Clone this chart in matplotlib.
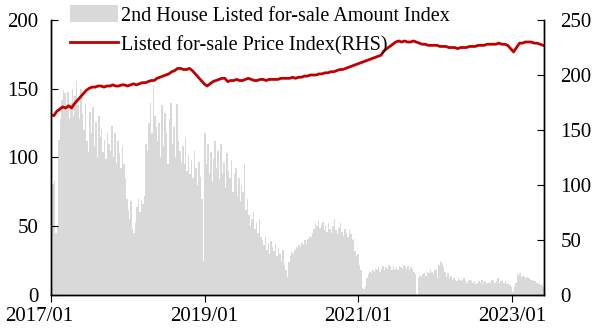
import matplotlib
matplotlib.use("Agg")
import matplotlib.pyplot as plt
import matplotlib.dates as mdates
import matplotlib.transforms as mtransforms
import numpy as np
import pandas as pd

# Weekly 2nd-house listed-for-sale amount index (left axis)
amount_index = [
    86, 81, 83,
    45, 50,
    113, 128, 142, 149, 147, 135, 148, 128, 140,
    150, 130, 145, 156, 138, 128, 150, 132,
    120, 139, 112, 104, 133, 118, 137, 108, 126, 100, 130, 115, 121, 104, 113, 99, 118, 110,
    105, 123, 100, 118, 96, 112, 103, 92, 108, 95, 85,
    70, 62, 55, 68, 48, 45, 52,
    64, 70, 60, 69, 66, 72,
    110, 105, 125, 140, 118, 152, 130, 122,
    112, 125, 100, 138, 108, 132, 118, 95, 128, 140, 110, 122, 100, 139, 112, 105, 96,
    108, 95, 114, 90, 102, 88, 98, 85, 105, 92, 80, 97, 86, 70, 25,
    118, 95, 110, 88, 104, 82, 99, 112,
    92, 105, 84, 110, 88, 96, 78, 103, 90, 85, 98, 75, 88,
    92, 72, 85, 68, 80, 75, 95, 62, 70,
    58, 50, 55, 60, 48, 52, 45, 55, 42,
    40, 36, 42, 33, 38, 30, 39, 35, 32, 37, 28, 34, 30, 25, 33, 22, 18,
    13,
    24, 28, 31, 30, 33, 35, 34, 36,
    35, 38, 36, 40, 37, 41, 43, 42,
    45, 48, 52, 50, 54, 49, 51, 53, 47, 50, 46, 52, 48, 45, 50, 55, 47, 44, 49, 52, 46, 43, 48, 45, 42, 47, 44, 40, 41,
    32, 28, 30, 22, 18,
    5, 4, 6,
    12, 15, 17, 16, 18, 17, 19, 18, 20, 17, 19, 21, 18, 20, 19, 22, 20, 18, 21, 19, 20, 18, 21, 20, 19, 22, 20, 19, 21, 18, 20, 19, 17, 15,
    1,
    12, 14, 13, 15, 16, 14, 17, 16, 18, 17, 15, 19, 18, 12,
    22, 25, 23, 20, 17,
    13, 16, 12, 14, 11, 12, 11, 10, 12, 11, 10, 11, 12, 10, 9, 10, 11, 10,
    9, 10, 8, 9, 10, 9, 11, 9, 10, 8, 9, 10, 9, 11, 10, 9, 10, 12, 9, 10, 11, 9, 10, 8, 9, 7, 6,
    2,
    6, 9,
    15, 14, 16, 13, 14, 13, 12, 13, 12, 11,
    11, 10, 10, 9, 9, 8, 7, 7, 6,
]

# Bi-weekly listed-for-sale price index (right axis)
price_index = [
    164, 163, 167, 169, 171, 170, 172, 170, 174, 177, 180, 183, 186, 188, 189, 189,
    190, 190, 189, 190, 190, 191, 190, 190, 191, 191, 190, 191, 192, 191, 192,
    193, 193, 194, 195, 195, 197, 198, 199, 200, 201, 203, 204, 206, 206, 205, 205,
    206, 204, 201, 198, 195, 192, 190, 192, 194, 195, 196, 197, 197, 194,
    195, 195, 196, 195, 195, 196, 197, 196, 195, 195, 196, 196, 195, 196,
    196, 196, 196, 197, 197, 197, 197, 198, 197, 198, 198, 199, 199, 200,
    200, 200, 201, 201, 202, 202, 203, 203, 204, 205, 205, 206, 207, 208,
    209, 210, 211, 212, 213, 214, 215, 216, 217, 218, 222, 224, 226, 228,
    230, 231, 230, 231, 230, 230, 231, 230, 229, 228, 228, 227, 227, 227,
    227, 226, 226, 226, 225, 225, 225, 224, 225, 225, 225, 226, 226, 226,
    227, 227, 227, 228, 228, 228, 228, 229, 228, 228, 227, 224, 221, 225,
    229, 229, 230, 230, 230, 229, 229, 228, 227,
]

left_ticks = [0, 50, 100, 150, 200]
right_ticks = [0, 50, 100, 150, 200, 250]
x_tick_labels = ["2017/01", "2019/01", "2021/01", "2023/01"]

bar_dates = pd.date_range("2017-01-01", periods=len(amount_index), freq="7D")
line_dates = pd.date_range("2017-01-01", periods=len(price_index), freq="14D")

plt.rcParams["font.family"] = ["Liberation Serif", "DejaVu Serif"]
fs = 15

fig = plt.figure(figsize=(5.99, 3.34), dpi=100)
ax = fig.add_axes([0.085, 0.117, 0.823, 0.823])
ax2 = ax.twinx()

bars = ax.bar(bar_dates, amount_index, width=7.0, color="#d9d9d9",
              edgecolor="none", align="edge",
              label="2nd House Listed for-sale Amount Index")
line, = ax2.plot(line_dates, price_index, color="#c00000", lw=2.0,
                 label="Listed for-sale Price Index(RHS)")

ax.set_ylim(0, 200)
ax2.set_ylim(0, 250)
ax.set_yticks(left_ticks)
ax2.set_yticks(right_ticks)
ax.set_xlim(pd.Timestamp("2017-01-01"), pd.Timestamp("2023-06-01"))
xt = [pd.Timestamp(s.replace("/", "-") + "-01") for s in x_tick_labels]
ax.set_xticks(xt)
ax.set_xticklabels(x_tick_labels)

for a in (ax, ax2):
    a.spines["top"].set_visible(False)
    for s in a.spines.values():
        s.set_linewidth(1.0)
        s.set_color("black")

ax.tick_params(axis="y", direction="in", length=5, pad=9, labelsize=fs)
ax2.tick_params(axis="y", direction="in", length=5, pad=12, labelsize=fs)
ax.tick_params(axis="x", direction="out", length=5, pad=4, labelsize=fs)

# shift first x label leftwards as in reference
lbl0 = ax.get_xticklabels()[0]
lbl0.set_transform(lbl0.get_transform() + mtransforms.ScaledTranslation(-12/100, 0, fig.dpi_scale_trans))

leg = fig.legend([bars, line],
                 ["2nd House Listed for-sale Amount Index", "Listed for-sale Price Index(RHS)"],
                 loc="upper left", bbox_to_anchor=(0.103, 1.008), frameon=False,
                 fontsize=14.5, handlelength=2.4, handleheight=0.9,
                 handletextpad=0.15, labelspacing=0.45, borderaxespad=0)

fig.savefig("out.png", dpi=100)
